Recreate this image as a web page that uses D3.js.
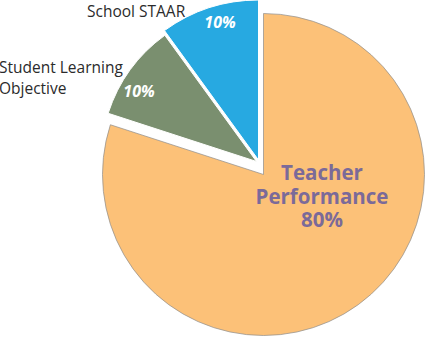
<!DOCTYPE html>
<html>
<head>
<meta charset="utf-8">
<script src="https://cdn.jsdelivr.net/npm/d3@7"></script>
<style>
  html, body { margin: 0; padding: 0; background: #fff; }
  svg { display: block; }
</style>
</head>
<body>
<svg id="chart" width="427" height="339"></svg>
<script>
// Evaluation weighting components
const categories = ["Teacher Performance", "Student Learning Objective", "School STAAR"];
const shares = [80, 10, 10];
const sliceColors = ["#FCC178", "#7A8F6F", "#27A9E1"];

const svg = d3.select("#chart");

// Each wedge is pulled apart a little from the others
const centers = [[263.5, 174.5], [256.5, 161.5], [258.5, 160]];
const radii = [161, 156, 160];

const data = categories.map((c, i) => ({ name: c, value: shares[i], i }));
const pie = d3.pie().sort(null).value(d => d.value).startAngle(0).endAngle(2 * Math.PI);
const arcs = pie(data);

const slice = svg.selectAll("g.slice").data(arcs).join("g")
  .attr("class", "slice")
  .attr("transform", d => `translate(${centers[d.data.i][0]},${centers[d.data.i][1]})`);

slice.append("path")
  .attr("d", d => d3.arc().innerRadius(0).outerRadius(radii[d.data.i])(d))
  .attr("fill", d => sliceColors[d.data.i])
  .attr("stroke", d => d.data.i === 0 ? "#8c8c8c" : "#ffffff")
  .attr("stroke-width", d => d.data.i === 0 ? 0.7 : 1);

// Percentage labels inside the small slices
const pctFmt = v => `${v}%`;
const smallPos = { 1: [0.877, 0.356], 2: [0.896, 0.567] };
const labelPoint = d => {
  const [k, t] = smallPos[d.data.i];
  const a = d.startAngle + (d.endAngle - d.startAngle) * t;
  const r = radii[d.data.i] * k;
  return [Math.sin(a) * r, -Math.cos(a) * r];
};
slice.filter(d => d.data.i > 0).append("text")
  .attr("x", d => labelPoint(d)[0])
  .attr("y", d => labelPoint(d)[1])
  .attr("text-anchor", "middle")
  .attr("dominant-baseline", "central")
  .attr("fill", "#ffffff")
  .attr("font-family", "'Open Sans', sans-serif")
  .attr("font-size", 16)
  .attr("font-weight", 700)
  .attr("font-style", "italic")
  .text(d => pctFmt(d.data.value));

// Big slice label
const big = slice.filter(d => d.data.i === 0).append("text")
  .attr("text-anchor", "middle")
  .attr("fill", "#7B6A99")
  .attr("font-family", "'Open Sans', sans-serif")
  .attr("font-size", 20.5)
  .attr("font-weight", 700)
  .attr("transform", "translate(58.5,5.5)");
["Teacher", "Performance", pctFmt(shares[0])].forEach((t, k) => {
  big.append("tspan").attr("x", 0).attr("y", k * 23.5).text(t);
});

// Outside category labels
const outside = svg.append("g")
  .attr("font-family", "'Open Sans', sans-serif")
  .attr("font-size", 15.5)
  .attr("fill", "#2b2b2b");
outside.append("text").attr("x", 87).attr("y", 17).text(categories[2]);
const slo = outside.append("text");
slo.append("tspan").attr("x", -1).attr("y", 73).text("Student Learning");
slo.append("tspan").attr("x", -1).attr("y", 94).text("Objective");
</script>
</body>
</html>
